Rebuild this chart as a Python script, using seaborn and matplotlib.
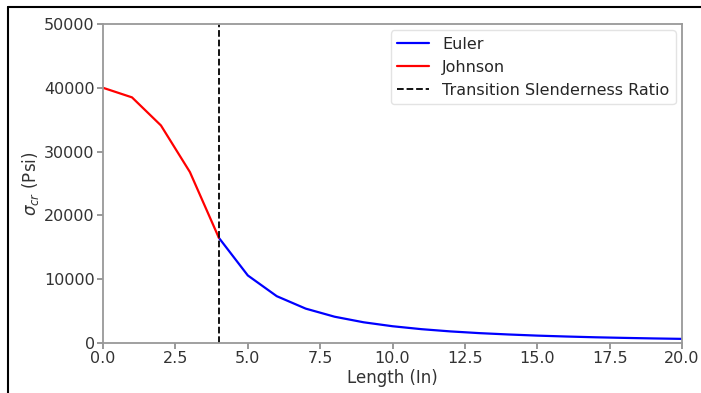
import matplotlib
matplotlib.use("Agg")
import matplotlib.pyplot as plt
import seaborn as sns
import pandas as pd
from matplotlib.lines import Line2D

# Data
johnson_L = [0, 1, 2, 3, 4]
johnson_sigma = [40000, 38500, 34100, 26800, 16500]
euler_L = [4, 5, 6, 7, 8, 9, 10, 11, 12, 13, 14, 15, 16, 17, 18, 19, 20]
euler_sigma = [16500, 10600, 7350, 5400, 4130, 3260, 2640, 2180, 1830,
               1560, 1350, 1170, 1030, 910, 815, 730, 660]
transition_L = 4.0

sns.set_theme(style="white")
plt.rcParams['font.family'] = ['DejaVu Sans']

fig = plt.figure(figsize=(7.01, 3.93), dpi=100)
ax = fig.add_axes([0.147, 0.127, 0.826, 0.812])

df_e = pd.DataFrame({"L": euler_L, "s": euler_sigma})
df_j = pd.DataFrame({"L": johnson_L, "s": johnson_sigma})
sns.lineplot(data=df_e, x="L", y="s", color="blue", linewidth=1.6, ax=ax, label="Euler")
sns.lineplot(data=df_j, x="L", y="s", color="red", linewidth=1.6, ax=ax, label="Johnson")
ax.axvline(transition_L, color="black", linestyle="--", linewidth=1.3,
           label="Transition Slenderness Ratio")

ax.set_xlim(0, 20)
ax.set_ylim(0, 50000)
ax.set_xticks([0, 2.5, 5, 7.5, 10, 12.5, 15, 17.5, 20])
ax.set_xticklabels(["0.0", "2.5", "5.0", "7.5", "10.0", "12.5", "15.0", "17.5", "20.0"])
ax.set_yticks([0, 10000, 20000, 30000, 40000, 50000])
ax.set_yticklabels(["0", "10000", "20000", "30000", "40000", "50000"])
ax.set_xlabel("Length (In)", fontsize=12, color="#333333", labelpad=2)
ax.set_ylabel(r"$\sigma_{cr}$ (Psi)", fontsize=12, color="#333333", labelpad=2)
ax.tick_params(axis="both", labelsize=11.5, colors="#333333", length=4, width=1.2,
               bottom=True, left=True, color="#888888", pad=2)
for sp in ax.spines.values():
    sp.set_color("#999999")
    sp.set_linewidth(1.3)

leg = ax.legend(loc="upper right", fontsize=11.5, frameon=True, borderaxespad=0.4)
leg.get_frame().set_edgecolor("#dddddd")

# screenshot frame lines
fig.add_artist(Line2D([8/701, 8/701], [0, 1 - 7/393], color="black", linewidth=1.5,
                      transform=fig.transFigure))
fig.add_artist(Line2D([8/701, 1], [1 - 7/393, 1 - 7/393], color="black", linewidth=1.5,
                      transform=fig.transFigure))

fig.savefig("out.png", dpi=100)
